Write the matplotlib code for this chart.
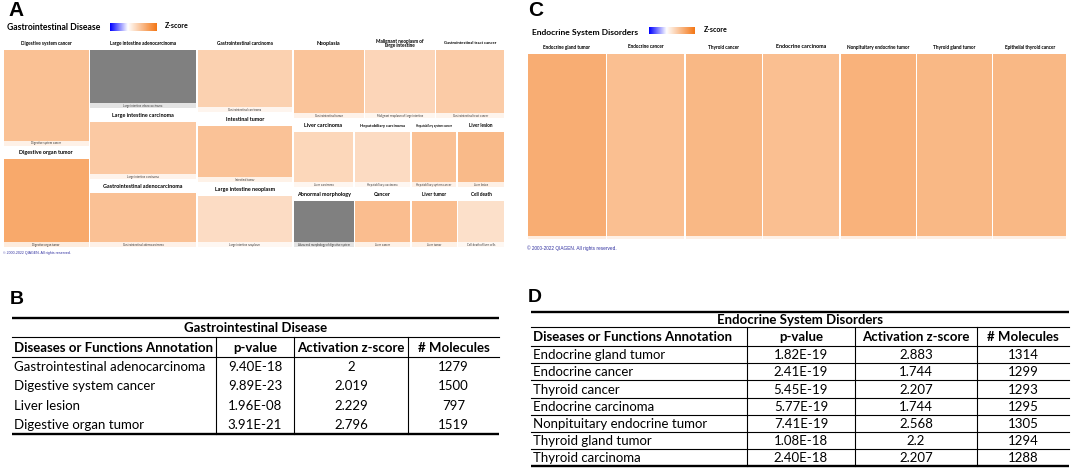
import textwrap
import numpy as np
import matplotlib.pyplot as plt
from matplotlib.colors import LinearSegmentedColormap, Normalize, to_rgb
from matplotlib.patches import Rectangle

# ---- A: Gastrointestinal Disease treemap (IPA) ----
gi_heads = ["Digestive system cancer", "Digestive organ tumor",
            "Large intestine adenocarcinoma", "Large intestine carcinoma", "Gastrointestinal adenocarcinoma",
            "Gastrointestinal carcinoma", "Intestinal tumor", "Large intestine neoplasm",
            "Neoplasia", "Malignant neoplasm of large intestine", "Gastrointestinal tract cancer",
            "Liver carcinoma", "Hepatobiliary carcinoma", "Hepatobiliary system cancer", "Liver lesion",
            "Abnormal morphology", "Cancer", "Liver tumor", "Cell death"]
gi_funcs = ["Digestive system cancer", "Digestive organ tumor",
            "Large intestine adenocarcinoma", "Large intestine carcinoma", "Gastrointestinal adenocarcinoma",
            "Gastrointestinal carcinoma", "Intestinal tumor", "Large intestine neoplasm",
            "Gastrointestinal tumor", "Malignant neoplasm of large intestine", "Gastrointestinal tract cancer",
            "Liver carcinoma", "Hepatobiliary carcinoma", "Hepatobiliary system cancer", "Liver lesion",
            "Abnormal morphology of digestive system", "Liver cancer", "Liver tumor", "Cell death of liver cells"]
gi_groups = [0, 0, 1, 1, 1, 2, 2, 2, 3, 3, 3, 4, 4, 4, 4, 5, 5, 5, 5]
gi_pvals = [9.89e-23, 3.91e-21, 1.0e-18, 2.0e-18, 9.40e-18, 1.0e-17, 2.5e-16, 3.0e-15,
            2.0e-14, 3.0e-14, 5.0e-14, 1.3e-10, 8.0e-10, 4.0e-08, 1.96e-08,
            2.5e-09, 1.3e-08, 3.0e-07, 2.5e-07]
gi_zscores = [2.019, 2.796, np.nan, 1.74, 2.0, 1.5, 1.97, 1.13,
              1.9, 1.35, 1.68, 1.29, 1.16, 2.0, 2.229,
              np.nan, 2.13, 2.1, 1.0]

# ---- C: Endocrine System Disorders treemap ----
ed_heads = ["Endocrine gland tumor", "Endocrine cancer", "Thyroid cancer", "Endocrine carcinoma",
            "Nonpituitary endocrine tumor", "Thyroid gland tumor", "Epithelial thyroid cancer"]
ed_pvals = [1.82e-19, 2.41e-19, 5.45e-19, 5.77e-19, 7.41e-19, 1.08e-18, 2.6e-18]
ed_zscores = [2.883, 1.744, 2.207, 1.744, 2.568, 2.2, 2.2]

# ---- B / D tables ----
col_heads = ["Diseases or Functions Annotation", "p-value", "Activation z-score", "# Molecules"]
b_names = ["Gastrointestinal adenocarcinoma", "Digestive system cancer", "Liver lesion", "Digestive organ tumor"]
b_pvals = [9.40e-18, 9.89e-23, 1.96e-08, 3.91e-21]
b_z = [2, 2.019, 2.229, 2.796]
b_mol = [1279, 1500, 797, 1519]

d_names = ["Endocrine gland tumor", "Endocrine cancer", "Thyroid cancer", "Endocrine carcinoma",
           "Nonpituitary endocrine tumor", "Thyroid gland tumor", "Thyroid carcinoma"]
d_pvals = [1.82e-19, 2.41e-19, 5.45e-19, 5.77e-19, 7.41e-19, 1.08e-18, 2.40e-18]
d_z = [2.883, 1.744, 2.207, 1.744, 2.568, 2.2, 2.207]
d_mol = [1314, 1299, 1293, 1295, 1305, 1294, 1288]

big_heads = {"Digestive organ tumor", "Large intestine carcinoma", "Intestinal tumor",
             "Gastrointestinal adenocarcinoma", "Large intestine neoplasm", "Neoplasia",
             "Liver carcinoma", "Hepatobiliary carcinoma", "Abnormal morphology", "Cancer",
             "Endocrine carcinoma"}

FONT = "Lato"
zmap = LinearSegmentedColormap.from_list("z", ["#FFFFFF", "#F47716"])
barmap = LinearSegmentedColormap.from_list("zb", [(0, "#0000FF"), (0.38, "#FFFFFF"), (1, "#F47716")])

fig = plt.figure(figsize=(10.72, 4.70), dpi=100)
ax = fig.add_axes([0, 0, 1, 1])
ax.set_xlim(0, 1072)
ax.set_ylim(470, 0)
ax.axis("off")


def split(vals, x, y, w, h, vertical):
    vals = np.asarray(vals, float)
    f = np.concatenate([[0], np.cumsum(vals)]) / vals.sum()
    if vertical:
        return [(x, y + h * a, w, h * (b - a)) for a, b in zip(f[:-1], f[1:])]
    return [(x + w * a, y, w * (b - a), h) for a, b in zip(f[:-1], f[1:])]


def tile_color(z, norm):
    if np.isnan(z):
        return np.array(to_rgb("#808080"))
    return np.array(zmap(norm(z))[:3])


def draw_tile(r, head, func, z, norm, head_h, band_h, band_fs):
    x, y, w, h = r
    g = 0.8
    c = tile_color(z, norm)
    pale = 0.22 * c + 0.78
    ax.add_patch(Rectangle((x + g, y + head_h), w - 2 * g, h - head_h - band_h - g,
                           facecolor=c, edgecolor="none"))
    ax.add_patch(Rectangle((x + g, y + h - band_h - g), w - 2 * g, band_h,
                           facecolor=pale, edgecolor="none"))
    # IPA shrinks a header to fit its tile, long ones go on two lines
    fs = 3.9 if head in big_heads else 3.4
    need = 0.78 * len(head) * fs
    txt = head
    if need > w - 3:
        if len(head) > 32:
            txt = textwrap.fill(head, width=int(len(head) * (w - 3) / need))
        else:
            fs = (w - 3) / (0.78 * len(head))
    ax.text(x + w / 2, y + head_h / 2, txt, ha="center", va="center", fontsize=fs,
            fontweight="bold", family=FONT, linespacing=1.0)
    if func:
        ax.text(x + w / 2, y + h - band_h / 2 - g, func, ha="center", va="center",
                fontsize=band_fs, family=FONT, color="#333333")


def color_bar(x, y, w, h):
    grad = np.linspace(0, 1, 200)[None, :]
    ax.imshow(grad, cmap=barmap, extent=(x, x + w, y + h, y), aspect="auto", zorder=2)


# panel A
ax.text(8, 11, "A", fontsize=15, fontweight="bold", family="Liberation Sans", va="center")
ax.text(7, 27, "Gastrointestinal Disease", fontsize=6.2, fontweight="bold", family=FONT, va="center")
color_bar(110, 23, 47, 8)
ax.text(165, 26, "Z-score", fontsize=5, fontweight="bold", family=FONT, va="center")

gi_size = -np.log10(gi_pvals)
grp = np.array(gi_groups)
gsum = [gi_size[grp == k].sum() for k in range(6)]
norm_a = Normalize(0, 4.4)
blocks = split([gsum[0], gsum[1], gsum[2], sum(gsum[3:])], 3, 37, 502, 211, vertical=False)
rows = split(gsum[3:], *blocks[3], vertical=True)
for k in range(6):
    idx = np.where(grp == k)[0]
    if k < 3:
        rects = split(gi_size[idx], *blocks[k], vertical=True)
    else:
        rects = split(gi_size[idx], *rows[k - 3], vertical=False)
    for i, r in zip(idx, rects):
        draw_tile(r, gi_heads[i], gi_funcs[i], gi_zscores[i], norm_a, 13, 5, 2.0)
ax.text(3, 253, "\u00a9 2000-2022 QIAGEN. All rights reserved.", fontsize=2.6,
        family="Liberation Sans", color="#3030A0", va="center")

# panel C
ax.text(528, 11, "C", fontsize=15, fontweight="bold", family="Liberation Sans", va="center")
ax.text(532, 32, "Endocrine System Disorders", fontsize=6.1, fontweight="bold", family=FONT, va="center")
color_bar(649, 27, 46, 7)
ax.text(704, 29, "Z-score", fontsize=5, fontweight="bold", family=FONT, va="center")
norm_c = Normalize(-2.4, 6.4)
for i, r in enumerate(split(-np.log10(ed_pvals), 527, 40, 540, 200, vertical=False)):
    draw_tile(r, ed_heads[i], "", ed_zscores[i], norm_c, 14, 3, 2.0)
ax.text(527, 248, "\u00a9 2000-2022 QIAGEN. All rights reserved.", fontsize=3.4,
        family="Liberation Sans", color="#3030A0", va="center")


def draw_table(title, names, pvals, zs, mols, xs, y_top, y_title, y_head, row_h, row_lines):
    x0, x1 = xs[0], xs[-1]
    fs = 9.5
    ax.plot([x0, x1], [y_top, y_top], color="k", lw=1.7, solid_capstyle="butt")
    ax.text((x0 + x1) / 2, (y_top + y_title) / 2 + 0.5, title, ha="center", va="center",
            fontsize=fs, fontweight="bold", family=FONT)
    ax.plot([x0, x1], [y_title, y_title], color="k", lw=0.8)
    yh = (y_title + y_head) / 2 + 0.5
    for j, t in enumerate(col_heads):
        if j == 0:
            ax.text(x0 + 2, yh, t, ha="left", va="center", fontsize=fs, fontweight="bold", family=FONT)
        else:
            ax.text((xs[j] + xs[j + 1]) / 2, yh, t, ha="center", va="center", fontsize=fs,
                    fontweight="bold", family=FONT)
    ax.plot([x0, x1], [y_head, y_head], color="k", lw=0.8)
    y_bot = y_head + row_h * len(names)
    for i in range(len(names)):
        yc = y_head + row_h * (i + 0.5) + 0.5
        cells = [names[i], f"{pvals[i]:.2E}", f"{zs[i]:g}", str(mols[i])]
        for j, t in enumerate(cells):
            if j == 0:
                ax.text(x0 + 2, yc, t, ha="left", va="center", fontsize=fs, family=FONT)
            else:
                ax.text((xs[j] + xs[j + 1]) / 2, yc, t, ha="center", va="center", fontsize=fs, family=FONT)
        if row_lines and i < len(names) - 1:
            ax.plot([x0, x1], [y_head + row_h * (i + 1)] * 2, color="k", lw=0.8)
    for xv in xs[1:-1]:
        ax.plot([xv, xv], [y_title, y_bot], color="k", lw=0.8)
    ax.plot([x0, x1], [y_bot, y_bot], color="k", lw=1.7, solid_capstyle="butt")


ax.text(10, 299, "B", fontsize=14, fontweight="bold", family="Liberation Sans", va="center")
draw_table("Gastrointestinal Disease", b_names, b_pvals, b_z, b_mol,
           [12, 216, 294, 408, 499], 318, 337, 357, 19.2, False)

ax.text(528, 298, "D", fontsize=14, fontweight="bold", family="Liberation Sans", va="center")
draw_table("Endocrine System Disorders", d_names, d_pvals, d_z, d_mol,
           [531, 747, 855, 977, 1069], 312, 327, 346, 17.2, True)

fig.savefig("out.png", dpi=100)
